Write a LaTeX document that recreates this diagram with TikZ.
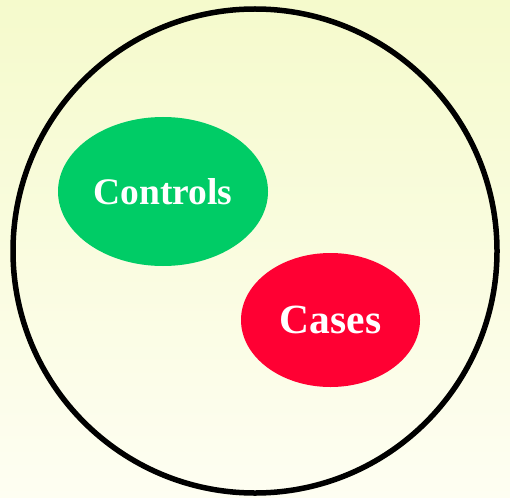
\documentclass[tikz,border=0pt]{standalone}
\usepackage{fontspec}
\setmainfont{Liberation Serif}
\usetikzlibrary{shapes.geometric}
\definecolor{bgtop}{RGB}{245,250,204}
\definecolor{bgbot}{RGB}{254,254,242}
\definecolor{ctrlgreen}{RGB}{0,204,102}
\definecolor{casered}{RGB}{255,0,51}
\begin{document}
\begin{tikzpicture}[x=1pt,y=-1pt]
				\tikzstyle{Group} = [ellipse, draw=none, inner sep=0pt, text=white, font=\bfseries]
				\shade [top color=bgtop, bottom color=bgbot] (0,0) rectangle (510,497);
				\useasboundingbox (0,0) rectangle (510,497);
				\node (all) at (255,251) [circle, draw, line width=5.5pt, minimum size=484, inner sep=0pt] {};
				\node (controls) at (163,191.5) [Group, fill=ctrlgreen, minimum width=210, minimum height=149] {\fontsize{37.5}{40}\selectfont Controls};
				\node (cases) at (330.5,320) [Group, fill=casered, minimum width=179, minimum height=134] {\fontsize{41.5}{44}\selectfont Cases};
			\end{tikzpicture}
\end{document}
